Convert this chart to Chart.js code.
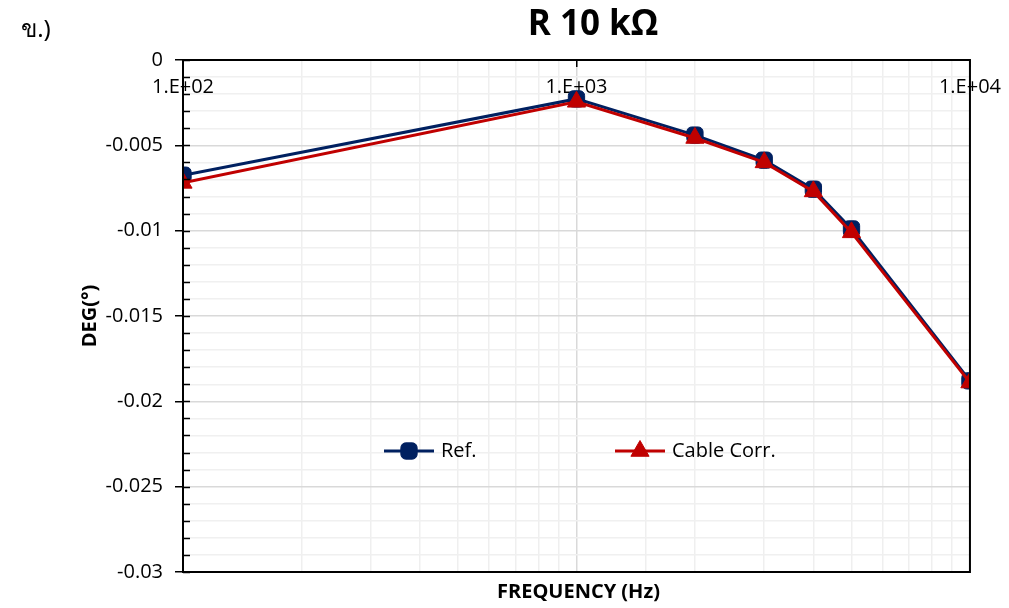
<!DOCTYPE html>
<html>
<head>
<meta charset="utf-8">
<script src="https://cdn.jsdelivr.net/npm/chart.js@4"></script>
<style>
  html, body { margin: 0; padding: 0; background: #fff; }
  #wrap { width: 1009px; height: 608px; }
</style>
</head>
<body>
<div id="wrap"><canvas id="myChart" width="1009" height="608"></canvas></div>
<script>
// frequency points (Hz) and phase readings (deg)
var freqs = [100, 1000, 2000, 3000, 4000, 5000, 10000];
var refValues = [-0.00675, -0.00228, -0.0044, -0.00587, -0.00757, -0.0099, -0.0188];
var cableValues = [-0.0072, -0.00245, -0.00457, -0.006, -0.0077, -0.0101, -0.0189];
var seriesNames = ["Ref.", "Cable Corr."];
var xTickLabels = {100: "1.E+02", 1000: "1.E+03", 10000: "1.E+04"};

var navy = "#002060";
var red = "#C00000";
var font = "Open Sans";

function toPoints(vals) {
  return freqs.map(function (f, i) { return {x: f, y: vals[i]}; });
}
function isMajorY(v) {
  return Math.round(v * 1000) % 5 === 0;
}

// extra text, border, inner ticks and the legend inside the plot
var extras = {
  id: "extras",
  afterDraw: function (chart) {
    var ctx = chart.ctx;
    var a = chart.chartArea;
    var ys = chart.scales.y;
    ctx.save();

    // inner minor ticks on y axis
    ctx.strokeStyle = "#000";
    ctx.lineWidth = 1.5;
    ys.ticks.forEach(function (t) {
      var py = Math.round(ys.getPixelForValue(t.value)) + 0.5;
      ctx.beginPath();
      ctx.moveTo(a.left, py);
      ctx.lineTo(a.left + 7, py);
      ctx.stroke();
    });

    // plot border
    ctx.lineWidth = 2;
    ctx.strokeRect(a.left, a.top, a.right - a.left, a.bottom - a.top);

    // titles
    ctx.fillStyle = "#000";
    ctx.textAlign = "center";
    ctx.textBaseline = "middle";
    ctx.font = "bold 35px '" + font + "'";
    ctx.fillText("R 10 kΩ", 593, 25);
    ctx.font = "24px 'Noto Sans', '" + font + "'";
    ctx.fillText("ข.)", 36, 30);
    ctx.font = "bold 20px '" + font + "'";
    ctx.fillText("FREQUENCY (Hz)", (a.left + a.right) / 2 + 2, 592);
    ctx.save();
    ctx.translate(a.left - 93, (a.top + a.bottom) / 2);
    ctx.rotate(-Math.PI / 2);
    ctx.fillText("DEG(°)", 0, 0);
    ctx.restore();

    // legend
    var ly = 451;
    var items = [
      {x: 384, color: navy, style: "rectRounded", r: 9.5, name: seriesNames[0]},
      {x: 615, color: red, style: "triangle", r: 10.5, name: seriesNames[1]}
    ];
    ctx.font = "20px '" + font + "'";
    ctx.textAlign = "left";
    items.forEach(function (it) {
      ctx.strokeStyle = it.color;
      ctx.lineWidth = 3;
      ctx.beginPath();
      ctx.moveTo(it.x, ly);
      ctx.lineTo(it.x + 50, ly);
      ctx.stroke();
      ctx.fillStyle = it.color;
      ctx.lineWidth = 1;
      Chart.helpers.drawPoint(ctx, {pointStyle: it.style, radius: it.r, rotation: 0, borderWidth: 1}, it.x + 25, ly);
      ctx.fillStyle = "#000";
      ctx.fillText(it.name, it.x + 57, ly);
    });
    ctx.restore();
  }
};

new Chart("myChart", {
  type: "line",
  data: {
    datasets: [{
      label: seriesNames[1],
      data: toPoints(cableValues),
      borderColor: red,
      backgroundColor: red,
      borderWidth: 3,
      pointStyle: "triangle",
      pointRadius: 10.5,
      pointBorderWidth: 1,
      tension: 0,
      order: 0
    }, {
      label: seriesNames[0],
      data: toPoints(refValues),
      borderColor: navy,
      backgroundColor: navy,
      borderWidth: 3,
      pointStyle: "rectRounded",
      pointRadius: 9.5,
      pointBorderWidth: 1,
      tension: 0,
      order: 1
    }]
  },
  options: {
    responsive: false,
    animation: false,
    layout: {padding: {left: 0, right: 39, top: 60, bottom: 36}},
    plugins: {
      legend: {display: false},
      title: {display: false},
      tooltip: {enabled: false}
    },
    scales: {
      x: {
        type: "logarithmic",
        position: {y: 0},
        min: 100,
        max: 10000,
        border: {display: false},
        grid: {
          color: function (c) { return xTickLabels[c.tick && c.tick.value] ? "#d9d9d9" : "#efefef"; },
          lineWidth: 1.5,
          tickLength: 7,
          tickColor: function (c) { return xTickLabels[c.tick && c.tick.value] ? "#000" : "rgba(0,0,0,0)"; }
        },
        ticks: {
          autoSkip: false,
          maxRotation: 0,
          padding: 8,
          color: "#000",
          font: {family: font, size: 20},
          callback: function (v) { return xTickLabels[v] || ""; }
        }
      },
      y: {
        min: -0.03,
        max: 0,
        afterFit: function (s) { s.width = 183; },
        border: {display: false},
        grid: {
          color: function (c) { return isMajorY(c.tick.value) ? "#d9d9d9" : "#f0f0f0"; },
          lineWidth: 1.5,
          tickLength: 8,
          tickColor: function (c) { return isMajorY(c.tick.value) ? "#000" : "rgba(0,0,0,0)"; }
        },
        ticks: {
          stepSize: 0.001,
          autoSkip: false,
          padding: 12,
          color: "#000",
          font: {family: font, size: 20},
          callback: function (v) {
            if (!isMajorY(v)) return "";
            return v === 0 ? "0" : String(+v.toFixed(3));
          }
        }
      }
    }
  },
  plugins: [extras]
});
</script>
</body>
</html>
